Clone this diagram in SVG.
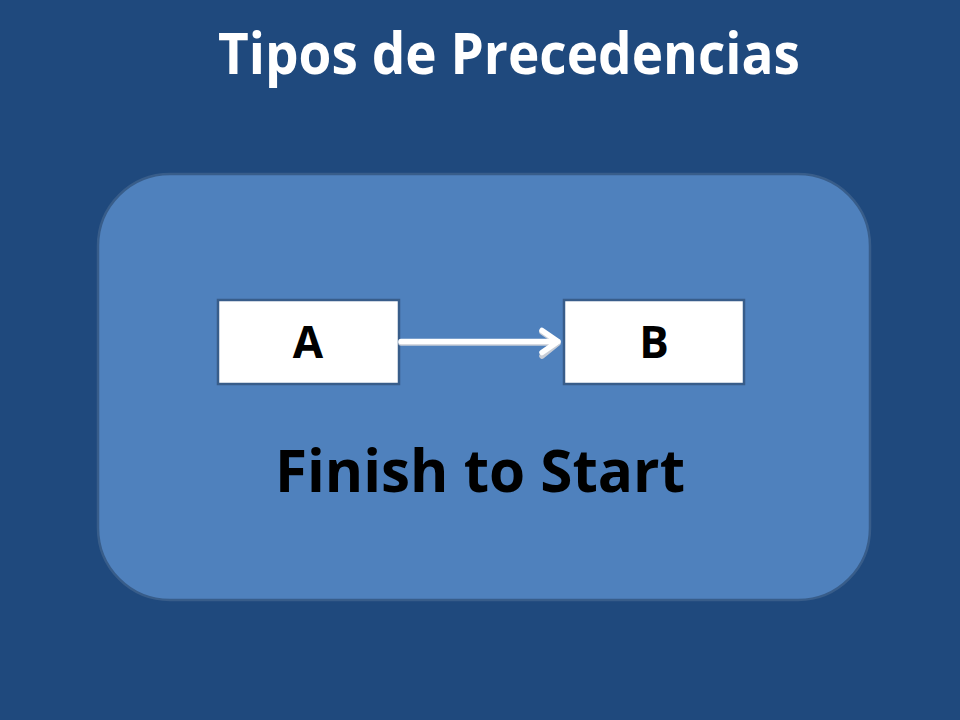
<svg xmlns="http://www.w3.org/2000/svg" width="960" height="720" viewBox="0 0 960 720">
<defs>
<style>
.t{font-family:"Open Sans","Liberation Sans",sans-serif;font-weight:bold;}
.box{fill:#FFFFFF;stroke:#385D8A;stroke-width:2.5;}
.conn{fill:none;stroke:#FFFFFF;stroke-width:5.5;stroke-linecap:round;stroke-linejoin:round;}
.shadow{fill:none;stroke:#C8CDD6;stroke-width:5.5;stroke-linecap:round;stroke-linejoin:round;}
</style>
</defs>
<rect x="0" y="0" width="960" height="720" fill="#1F497D"/>
<text class="t" x="509" y="74" font-size="57" fill="#FFFFFF" text-anchor="middle" textLength="582" lengthAdjust="spacingAndGlyphs">Tipos de Precedencias</text>
<g id="panel">
<rect x="98" y="174" width="772" height="426" rx="72" ry="72" fill="#4F81BD" stroke="#385D8A" stroke-width="2.5"/>
</g>
<g id="nodeA">
<rect class="box" x="218" y="300" width="181" height="84"/>
<text class="t" x="308" y="358" font-size="44" fill="#000000" text-anchor="middle">A</text>
</g>
<g id="nodeB">
<rect class="box" x="564" y="300" width="180" height="84"/>
<text class="t" x="654" y="358" font-size="44" fill="#000000" text-anchor="middle">B</text>
</g>
<g id="connectors">
<path class="shadow" d="M401,343 L558,343 M542,332 L558,343 L542,356"/>
<path class="conn" d="M401,341.5 L558,341.5 M542,330.5 L558,341.5 L542,352.5"/>
</g>
<text class="t" x="480" y="492" font-size="59" fill="#000000" text-anchor="middle" textLength="410" lengthAdjust="spacingAndGlyphs">Finish to Start</text>
</svg>
